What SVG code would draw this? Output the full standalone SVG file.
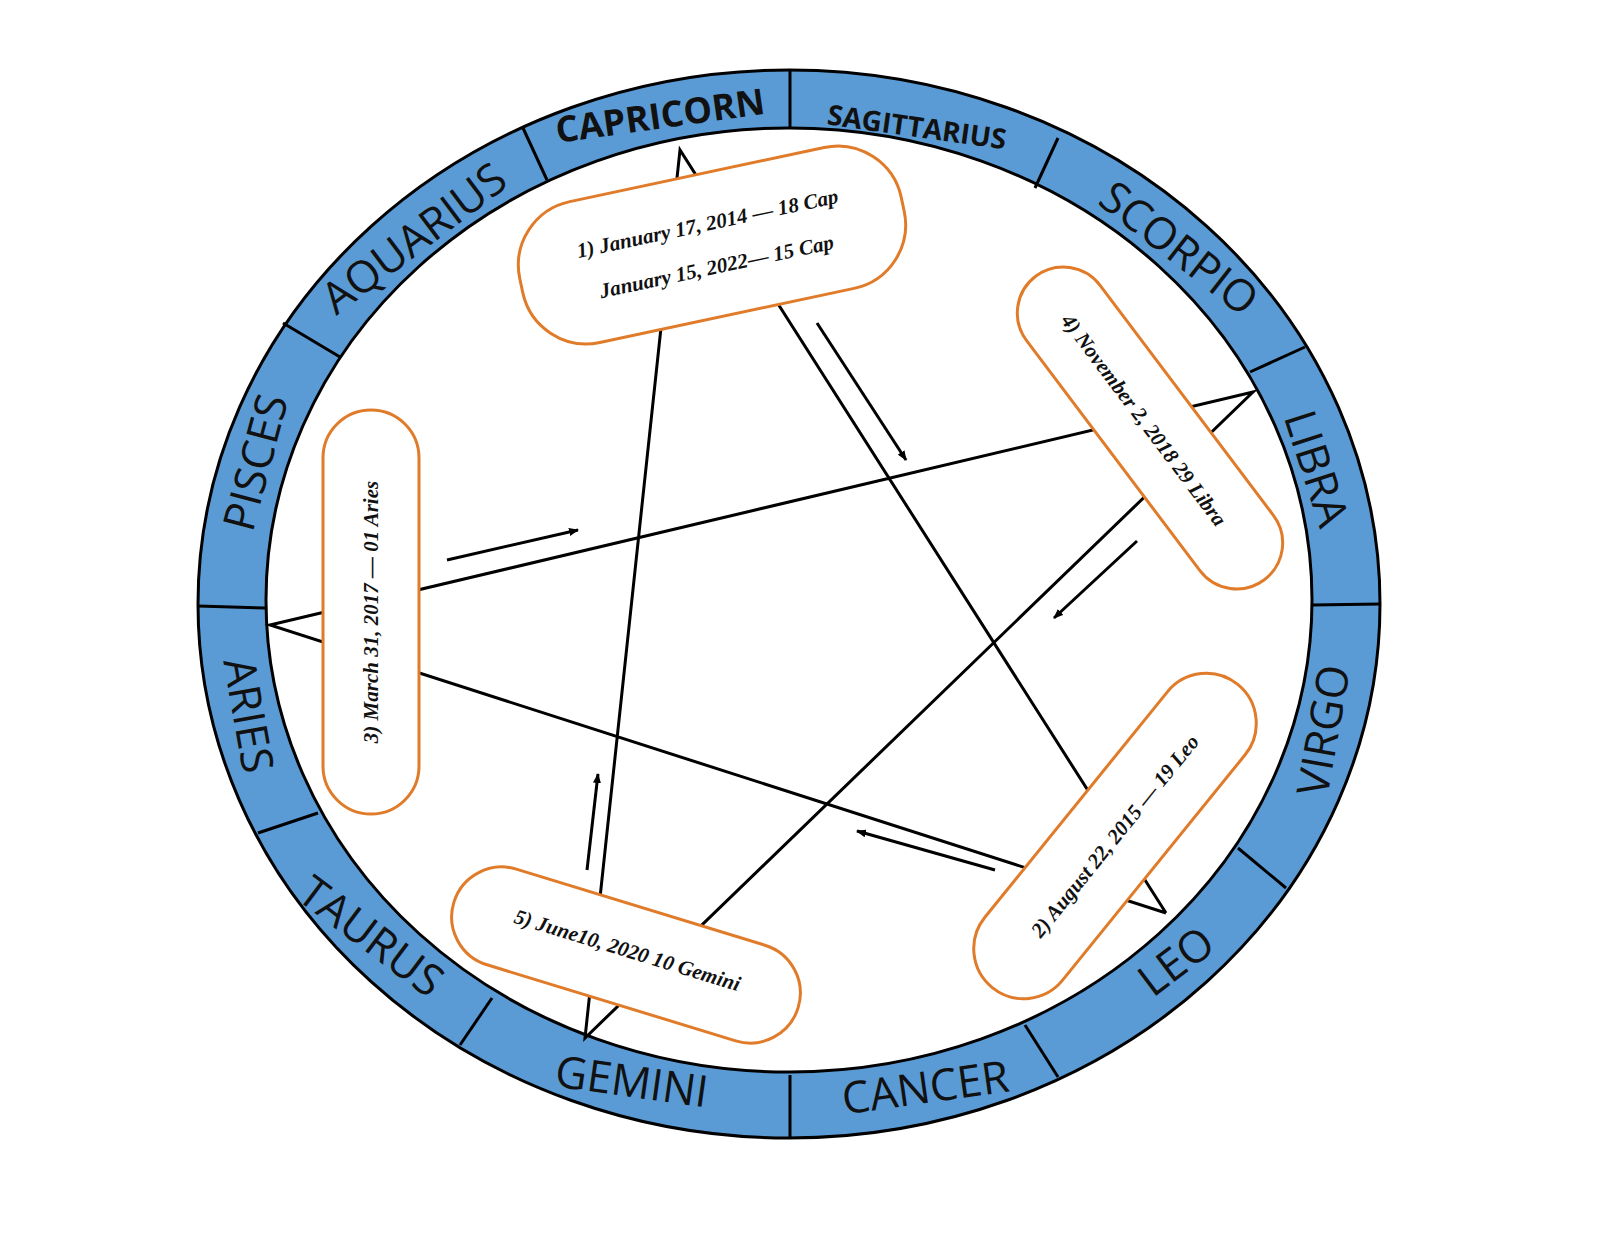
<svg xmlns="http://www.w3.org/2000/svg" width="1600" height="1236" viewBox="0 0 1600 1236">
<style>
.z{font-family:"Open Sans","Liberation Sans",sans-serif;font-size:44px;fill:#111;text-anchor:middle;dominant-baseline:central}
.b{font-family:"Liberation Serif",serif;font-weight:bold;font-style:italic;font-size:21px;fill:#111;text-anchor:middle;dominant-baseline:central}
.box{fill:#fff;stroke:#E07B2A;stroke-width:3}
.ln{stroke:#000;stroke-width:3;fill:none}
</style>
<defs><marker id="ah" markerWidth="10" markerHeight="8" refX="9" refY="4" orient="auto" markerUnits="userSpaceOnUse"><path d="M0,0 L10,4 L0,8 z" fill="#000"/></marker></defs>
<g id="ring">
<ellipse cx="789" cy="604" rx="591" ry="534" fill="#5B9BD5" stroke="#000" stroke-width="3"/>
<ellipse cx="789" cy="600" rx="523" ry="472" fill="#fff" stroke="#000" stroke-width="3"/>
<g class="ln">
<line x1="790" y1="70" x2="790" y2="128"/><line x1="523" y1="128" x2="547" y2="180"/>
<line x1="1058" y1="138" x2="1035" y2="188"/><line x1="283" y1="323" x2="340" y2="357"/>
<line x1="1305" y1="347" x2="1250" y2="372"/><line x1="198" y1="606" x2="266" y2="608"/>
<line x1="1312" y1="605" x2="1381" y2="604"/><line x1="258" y1="833" x2="318" y2="813"/>
<line x1="1238" y1="848" x2="1286" y2="888"/><line x1="460" y1="1045" x2="492" y2="998"/>
<line x1="1025" y1="1025" x2="1058" y2="1077"/><line x1="790" y1="1075" x2="790" y2="1138"/>
</g>
<text class="z" transform="translate(660,115) rotate(-8)" style="font-weight:bold;font-size:36px">CAPRICORN</text>
<text class="z" transform="translate(917,126) rotate(8)" style="font-weight:bold;font-size:28px">SAGITTARIUS</text>
<text class="z" transform="translate(1180,247) rotate(38)">SCORPIO</text>
<text class="z" transform="translate(1318,468) rotate(72)">LIBRA</text>
<text class="z" transform="translate(1322,730) rotate(-80)">VIRGO</text>
<text class="z" transform="translate(1175,960) rotate(-37)">LEO</text>
<text class="z" transform="translate(925,1086) rotate(-8)">CANCER</text>
<text class="z" transform="translate(632,1080) rotate(8)">GEMINI</text>
<text class="z" transform="translate(372,935) rotate(37)">TAURUS</text>
<text class="z" transform="translate(250,715) rotate(80)">ARIES</text>
<text class="z" transform="translate(254,462) rotate(-75)">PISCES</text>
<text class="z" transform="translate(413,237) rotate(-37)">AQUARIUS</text>
</g>
<g id="connectors" class="ln">
<path d="M1166,913 L680,150 L585,1038 L1253,392 L270,625 L1166,913"/>
<line x1="817" y1="323" x2="906" y2="460" marker-end="url(#ah)"/>
<line x1="447" y1="560" x2="578" y2="530" marker-end="url(#ah)"/>
<line x1="1137" y1="541" x2="1054" y2="618" marker-end="url(#ah)"/>
<line x1="995" y1="870" x2="857" y2="831" marker-end="url(#ah)"/>
<line x1="587" y1="870" x2="598" y2="774" marker-end="url(#ah)"/>
</g>
<g id="n1" transform="translate(712,245) rotate(-12)">
<rect class="box" x="-195" y="-72" width="390" height="144" rx="65"/>
<text class="b" y="-22">1) January 17, 2014  — 18 Cap</text>
<text class="b" y="22">January 15, 2022— 15 Cap</text>
</g>
<g id="n4" transform="translate(1150,428) rotate(53)">
<rect class="box" x="-190" y="-46" width="380" height="92" rx="46"/>
<text class="b" x="-10">4) November 2, 2018   29 Libra</text>
</g>
<g id="n3" transform="translate(371,612) rotate(-90)">
<rect class="box" x="-202" y="-48" width="404" height="96" rx="48"/>
<text class="b">3) March 31, 2017 — 01 Aries</text>
</g>
<g id="n2" transform="translate(1115,836) rotate(-51)">
<rect class="box" x="-195" y="-50" width="390" height="100" rx="50"/>
<text class="b">2) August 22, 2015 — 19 Leo</text>
</g>
<g id="n5" transform="translate(626,955) rotate(17)">
<rect class="box" x="-180" y="-50" width="360" height="100" rx="50"/>
<text class="b" y="-5">5) June10, 2020  10 Gemini</text>
</g>
</svg>
